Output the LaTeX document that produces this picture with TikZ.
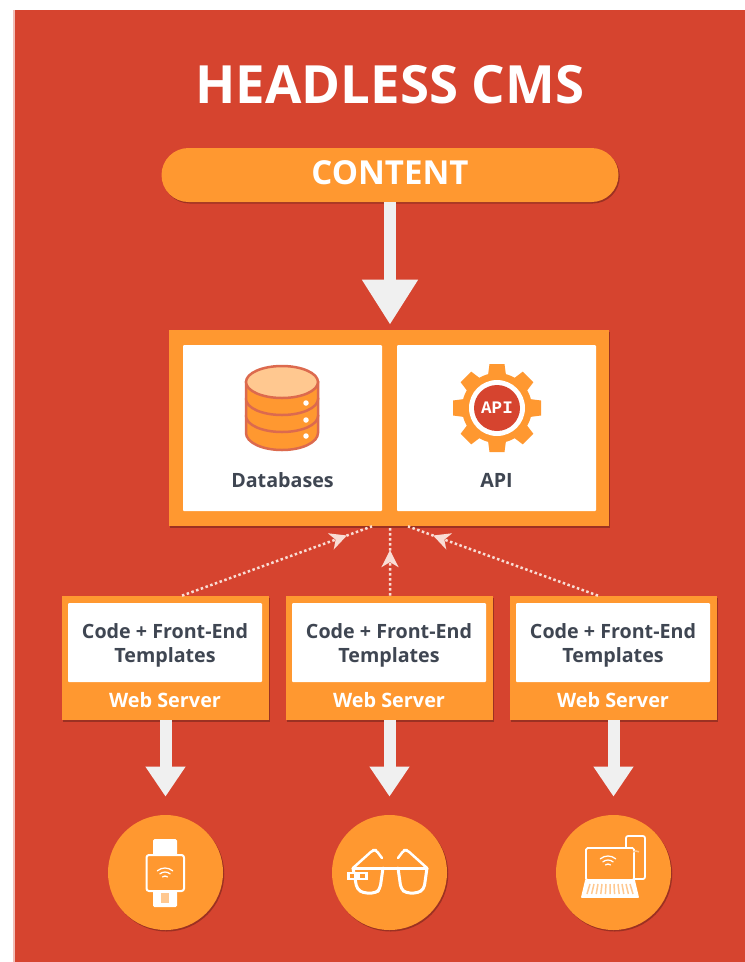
\documentclass[tikz,border=0pt]{standalone}
\usepackage{fontspec}
\setmainfont{Open Sans}
\usetikzlibrary{arrows.meta,shadows,decorations.markings}
\definecolor{cmsred}{HTML}{D6442F}
\definecolor{cmsorange}{HTML}{FF9830}
\definecolor{cmspale}{HTML}{FFC890}
\definecolor{cmsline}{HTML}{DC6A4E}
\definecolor{cmsgrey}{HTML}{3F4652}
\definecolor{cmsarrow}{HTML}{F0F0F0}
\definecolor{cmsdots}{HTML}{F9DDD5}
\tikzset{
  softshadow/.style={drop shadow={shadow xshift=.025cm,shadow yshift=-.03cm,fill=black!60!cmsred,opacity=.45}},
  orangebox/.style={fill=cmsorange,inner sep=0pt,softshadow},
  whitebox/.style={fill=white,inner sep=0pt,rounded corners=.02cm},
  corebox/.style={whitebox,minimum width=3.98cm,minimum height=3.32cm},
  webbox/.style={orangebox,minimum width=4.14cm,minimum height=2.48cm},
  codebox/.style={whitebox,minimum width=3.88cm,minimum height=1.58cm},
  codetext/.style={align=center,inner sep=0pt,text=cmsgrey,font=\fontsize{11.2}{13.6}\selectfont\bfseries},
  serverlabel/.style={text=white,inner sep=0pt,font=\fontsize{11.3}{13}\selectfont\bfseries},
  corelabel/.style={text=cmsgrey,inner sep=0pt,font=\fontsize{11.2}{13}\selectfont\bfseries},
  device/.style={circle,orangebox,minimum size=2.3cm},
  bigarrow/.style={draw=cmsarrow,line width=.24cm,-{Triangle[width=1.06cm,length=.9cm,fill=cmsarrow]}},
  downarrow/.style={draw=cmsarrow,line width=.24cm,-{Triangle[width=.76cm,length=.6cm,fill=cmsarrow]}},
  dotline/.style={draw=cmsdots,line width=.05cm,dash pattern=on .05cm off .05cm,
    decoration={markings,mark=at position #1 with {\arrow[cmsdots]{Stealth[length=.34cm,width=.34cm,inset=.1cm]}}},
    postaction={decorate}},
  iconline/.style={draw=white,line width=.035cm,line join=round,line cap=round},
  dbline/.style={draw=cmsline,line width=.05cm,fill=cmsorange}
}
\begin{document}
\begin{tikzpicture}
    \useasboundingbox (0,0) rectangle (14.9,-19.24);

    % the background
    \fill[white] (0,0) rectangle (14.9,-19.24);
    \fill[cmsred!35] (0.26,-0.2) rectangle (0.3,-19.24);
    \fill[cmsred] (0.3,-0.2) rectangle (14.9,-19.24);

    % the title and the content bar
    \node[text=white,font=\fontsize{30}{34}\selectfont\bfseries] (title) at (7.8,-1.7) {HEADLESS CMS};
    \node[orangebox,rounded corners=.54cm,minimum width=9.14cm,minimum height=1.08cm,
      text=white,font=\fontsize{18.8}{21}\selectfont\bfseries] (content) at (7.8,-3.5) {};
    \node[text=white,font=\fontsize{18.8}{21}\selectfont\bfseries] (contentlabel) at (7.8,-3.46) {CONTENT};

    % the core box with its two panels
    \node[orangebox,minimum width=8.8cm,minimum height=3.92cm] (core) at (7.78,-8.56) {};
    \node[corebox] (dbbox) at (5.65,-8.56) {};
    \node[corebox] (apibox) at (9.93,-8.56) {};
    \node[corelabel] (dblabel) at (5.65,-9.6) {Databases};
    \node[corelabel] (apilabel) at (9.93,-9.6) {API};

    % the database stack, drawn from the bottom up
    \draw[dbline] (4.92,-8.66) arc (180:360:.72 and .34) -- (6.36,-8.32) -- (4.92,-8.32) -- cycle;
    \draw[dbline] (4.92,-8.32) arc (180:360:.72 and .32) -- (6.36,-7.98) -- (4.92,-7.98) -- cycle;
    \draw[dbline] (4.92,-7.98) arc (180:360:.72 and .32) -- (6.36,-7.64) -- (4.92,-7.64) -- cycle;
    \draw[dbline,fill=cmspale] (5.64,-7.64) ellipse (.72 and .32);
    \fill[white] (6.12,-8.06) circle (.055);
    \fill[white] (6.12,-8.4) circle (.055);
    \fill[white] (6.12,-8.72) circle (.055);

    % the gear
    \coordinate (gear) at (9.94,-8.16);
    \foreach \a in {0,45,...,315}
      \fill[cmsorange,shift={(gear)},rotate=\a] (-.2,.5) -- (-.15,.88) -- (.15,.88) -- (.2,.5) -- cycle;
    \fill[cmsorange] (gear) circle (.7);
    \fill[white] (gear) circle (.56);
    \node[circle,fill=cmsred,minimum size=.92cm,inner sep=0pt,text=white,
      font=\fontsize{10}{11}\fontspec{Liberation Mono}\bfseries] (apimark) at (gear) {API};

    % the web servers
    \node[webbox] (web1) at (3.31,-13.16) {};
    \node[webbox] (web2) at (7.79,-13.16) {};
    \node[webbox] (web3) at (12.27,-13.16) {};
    \node[codebox] (code1) at (3.3,-12.85) {};
    \node[codebox] (code2) at (7.78,-12.85) {};
    \node[codebox] (code3) at (12.26,-12.85) {};
    \node[codetext] (codetext1) at (3.3,-12.9) {Code + Front-End\\Templates};
    \node[codetext] (codetext2) at (7.78,-12.9) {Code + Front-End\\Templates};
    \node[codetext] (codetext3) at (12.26,-12.9) {Code + Front-End\\Templates};
    \node[serverlabel] (server1) at (3.3,-14) {Web Server};
    \node[serverlabel] (server2) at (7.78,-14) {Web Server};
    \node[serverlabel] (server3) at (12.26,-14) {Web Server};

    % the devices
    \node[device] (dev1) at (3.31,-17.45) {};
    \node[device] (dev2) at (7.79,-17.45) {};
    \node[device] (dev3) at (12.27,-17.45) {};

    % draw the arrows
    \draw[bigarrow] (content.south) -- ([xshift=.02cm,yshift=.1cm]core.north);
    \draw[downarrow] (web1.south) -- ([yshift=.36cm]dev1.north);
    \draw[downarrow] (web2.south) -- ([yshift=.36cm]dev2.north);
    \draw[downarrow] (web3.south) -- ([yshift=.36cm]dev3.north);
    \draw[dotline=.868] ([xshift=.33cm]web1.north) -- ([xshift=-.34cm]core.south);
    \draw[dotline=.657] ([xshift=.01cm]web2.north) -- ([xshift=.02cm]core.south);
    \draw[dotline=.868] ([xshift=-.31cm]web3.north) -- ([xshift=.38cm]core.south);

    % the watch
    \fill[white,rounded corners=.03cm] (3.06,-16.78) rectangle (3.54,-17.12);
    \fill[white,rounded corners=.03cm] (3.06,-17.8) rectangle (3.54,-18.14);
    \fill[cmspale] (3.22,-17.86) rectangle (3.38,-18.06);
    \draw[iconline,line width=.04cm,fill=cmsorange,rounded corners=.05cm] (2.93,-17.1) rectangle (3.68,-17.82);
    \draw[iconline,line width=.025cm] (3.3,-17.6) ++(130:.08) arc (130:50:.08);
    \draw[iconline,line width=.025cm] (3.3,-17.6) ++(130:.16) arc (130:50:.16);
    \draw[iconline,line width=.025cm] (3.3,-17.6) ++(130:.24) arc (130:50:.24);

    % the glasses
    \draw[iconline,line width=.06cm,rounded corners=.08cm] (7.06,-17.36) -- (7.14,-17.78) -- (7.26,-17.86) -- (7.52,-17.86) -- (7.6,-17.78) -- (7.66,-17.36);
    \draw[iconline,line width=.06cm,rounded corners=.08cm] (8.54,-17.36) -- (8.48,-17.78) -- (8.36,-17.86) -- (8.12,-17.86) -- (8.02,-17.78) -- (7.96,-17.36);
    \draw[iconline,line width=.06cm] (7.06,-17.36) -- (8.54,-17.36);
    \draw[iconline,line width=.05cm,rounded corners=.06cm] (7.06,-17.36) -- (7.46,-17) -- (7.52,-17) -- (7.64,-17.16);
    \draw[iconline,line width=.05cm,rounded corners=.06cm] (8.54,-17.36) -- (8.14,-17) -- (8.08,-17) -- (7.96,-17.16);
    \fill[white] (6.94,-17.44) rectangle (7.36,-17.6);
    \fill[cmsorange] (7,-17.48) rectangle (7.08,-17.56);
    \fill[cmsorange] (7.2,-17.48) rectangle (7.3,-17.56);

    % the laptop and the phone
    \draw[iconline,rounded corners=.04cm] (12.52,-16.72) rectangle (12.9,-17.58);
    \draw[iconline,fill=cmsorange,rounded corners=.03cm] (11.72,-16.96) rectangle (12.68,-17.6);
    \draw[iconline,line width=.025cm] (12.16,-17.36) ++(130:.08) arc (130:50:.08);
    \draw[iconline,line width=.025cm] (12.16,-17.36) ++(130:.16) arc (130:50:.16);
    \draw[iconline,line width=.025cm] (12.16,-17.36) ++(130:.24) arc (130:50:.24);
    \draw[iconline,fill=white] (11.72,-17.6) -- (12.68,-17.6) -- (12.76,-17.94) -- (11.64,-17.94) -- cycle;
    \foreach \k in {0,...,10}
      \draw[cmspale,line width=.03cm] (11.8+.08*\k,-17.68) -- (11.74+.092*\k,-17.88);
    \draw[cmspale,line width=.03cm] (12.72,-17.14) ++(120:.12) arc (120:60:.12);
\end{tikzpicture}
\end{document}
